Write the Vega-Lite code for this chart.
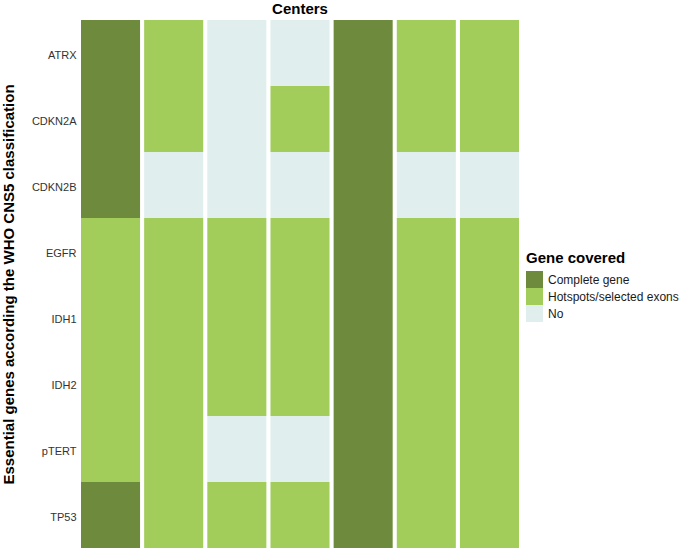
{
  "$schema": "https://vega.github.io/schema/vega-lite/v6.json",
  "width": 438,
  "height": 528,
  "autosize": {"type": "none"},
  "padding": {"left": 81, "top": 20, "right": 166, "bottom": 0},
  "background": "white",
  "title": {"text": "Centers", "anchor": "middle", "fontSize": 15, "fontWeight": "bold", "font": "Liberation Sans", "color": "#000000", "offset": 3},
  "config": {"view": {"stroke": null}, "font": "Liberation Sans"},
  "data": {"values": [
    {"center": "C1", "gene": "ATRX", "cov": "Complete gene"},
    {"center": "C1", "gene": "CDKN2A", "cov": "Complete gene"},
    {"center": "C1", "gene": "CDKN2B", "cov": "Complete gene"},
    {"center": "C1", "gene": "EGFR", "cov": "Hotspots/selected exons"},
    {"center": "C1", "gene": "IDH1", "cov": "Hotspots/selected exons"},
    {"center": "C1", "gene": "IDH2", "cov": "Hotspots/selected exons"},
    {"center": "C1", "gene": "pTERT", "cov": "Hotspots/selected exons"},
    {"center": "C1", "gene": "TP53", "cov": "Complete gene"},
    {"center": "C2", "gene": "ATRX", "cov": "Hotspots/selected exons"},
    {"center": "C2", "gene": "CDKN2A", "cov": "Hotspots/selected exons"},
    {"center": "C2", "gene": "CDKN2B", "cov": "No"},
    {"center": "C2", "gene": "EGFR", "cov": "Hotspots/selected exons"},
    {"center": "C2", "gene": "IDH1", "cov": "Hotspots/selected exons"},
    {"center": "C2", "gene": "IDH2", "cov": "Hotspots/selected exons"},
    {"center": "C2", "gene": "pTERT", "cov": "Hotspots/selected exons"},
    {"center": "C2", "gene": "TP53", "cov": "Hotspots/selected exons"},
    {"center": "C3", "gene": "ATRX", "cov": "No"},
    {"center": "C3", "gene": "CDKN2A", "cov": "No"},
    {"center": "C3", "gene": "CDKN2B", "cov": "No"},
    {"center": "C3", "gene": "EGFR", "cov": "Hotspots/selected exons"},
    {"center": "C3", "gene": "IDH1", "cov": "Hotspots/selected exons"},
    {"center": "C3", "gene": "IDH2", "cov": "Hotspots/selected exons"},
    {"center": "C3", "gene": "pTERT", "cov": "No"},
    {"center": "C3", "gene": "TP53", "cov": "Hotspots/selected exons"},
    {"center": "C4", "gene": "ATRX", "cov": "No"},
    {"center": "C4", "gene": "CDKN2A", "cov": "Hotspots/selected exons"},
    {"center": "C4", "gene": "CDKN2B", "cov": "No"},
    {"center": "C4", "gene": "EGFR", "cov": "Hotspots/selected exons"},
    {"center": "C4", "gene": "IDH1", "cov": "Hotspots/selected exons"},
    {"center": "C4", "gene": "IDH2", "cov": "Hotspots/selected exons"},
    {"center": "C4", "gene": "pTERT", "cov": "No"},
    {"center": "C4", "gene": "TP53", "cov": "Hotspots/selected exons"},
    {"center": "C5", "gene": "ATRX", "cov": "Complete gene"},
    {"center": "C5", "gene": "CDKN2A", "cov": "Complete gene"},
    {"center": "C5", "gene": "CDKN2B", "cov": "Complete gene"},
    {"center": "C5", "gene": "EGFR", "cov": "Complete gene"},
    {"center": "C5", "gene": "IDH1", "cov": "Complete gene"},
    {"center": "C5", "gene": "IDH2", "cov": "Complete gene"},
    {"center": "C5", "gene": "pTERT", "cov": "Complete gene"},
    {"center": "C5", "gene": "TP53", "cov": "Complete gene"},
    {"center": "C6", "gene": "ATRX", "cov": "Hotspots/selected exons"},
    {"center": "C6", "gene": "CDKN2A", "cov": "Hotspots/selected exons"},
    {"center": "C6", "gene": "CDKN2B", "cov": "No"},
    {"center": "C6", "gene": "EGFR", "cov": "Hotspots/selected exons"},
    {"center": "C6", "gene": "IDH1", "cov": "Hotspots/selected exons"},
    {"center": "C6", "gene": "IDH2", "cov": "Hotspots/selected exons"},
    {"center": "C6", "gene": "pTERT", "cov": "Hotspots/selected exons"},
    {"center": "C6", "gene": "TP53", "cov": "Hotspots/selected exons"},
    {"center": "C7", "gene": "ATRX", "cov": "Hotspots/selected exons"},
    {"center": "C7", "gene": "CDKN2A", "cov": "Hotspots/selected exons"},
    {"center": "C7", "gene": "CDKN2B", "cov": "No"},
    {"center": "C7", "gene": "EGFR", "cov": "Hotspots/selected exons"},
    {"center": "C7", "gene": "IDH1", "cov": "Hotspots/selected exons"},
    {"center": "C7", "gene": "IDH2", "cov": "Hotspots/selected exons"},
    {"center": "C7", "gene": "pTERT", "cov": "Hotspots/selected exons"},
    {"center": "C7", "gene": "TP53", "cov": "Hotspots/selected exons"}
  ]},
  "mark": {"type": "rect"},
  "encoding": {
    "x": {"field": "center", "type": "nominal", "sort": ["C1","C2","C3","C4","C5","C6","C7"],
          "scale": {"paddingInner": 0.065, "paddingOuter": 0}, "axis": null},
    "y": {"field": "gene", "type": "nominal", "sort": ["ATRX","CDKN2A","CDKN2B","EGFR","IDH1","IDH2","pTERT","TP53"],
          "scale": {"paddingInner": 0, "paddingOuter": 0},
          "axis": {"title": "Essential genes according the WHO CNS5 classification", "titleFontSize": 15, "titleFontWeight": "bold", "titleColor": "#000000", "titleFont": "Liberation Sans",
                   "titleX": -65, "titleY": 264, "titleAngle": -90, "titleAlign": "center", "titleBaseline": "bottom",
                   "labelFontSize": 11, "labelColor": "#333333", "labelPadding": 5, "labelOffset": 3, "ticks": false, "domain": false, "grid": false}},
    "color": {"field": "cov", "type": "nominal",
              "scale": {"domain": ["Complete gene", "Hotspots/selected exons", "No"], "range": ["#6E8B3D", "#A2CD5A", "#E0EEEE"]},
              "legend": {"title": "Gene covered", "orient": "none", "legendX": 445, "legendY": 231,
                         "titleFontSize": 15, "titleFontWeight": "bold", "titleColor": "#000000", "titleFont": "Liberation Sans", "titlePadding": 5,
                         "labelFontSize": 12, "labelColor": "#1a1a1a", "symbolType": "square", "symbolSize": 289, "symbolStrokeWidth": 0, "symbolOpacity": 1,
                         "rowPadding": 0, "labelOffset": 5}}
  }
}
